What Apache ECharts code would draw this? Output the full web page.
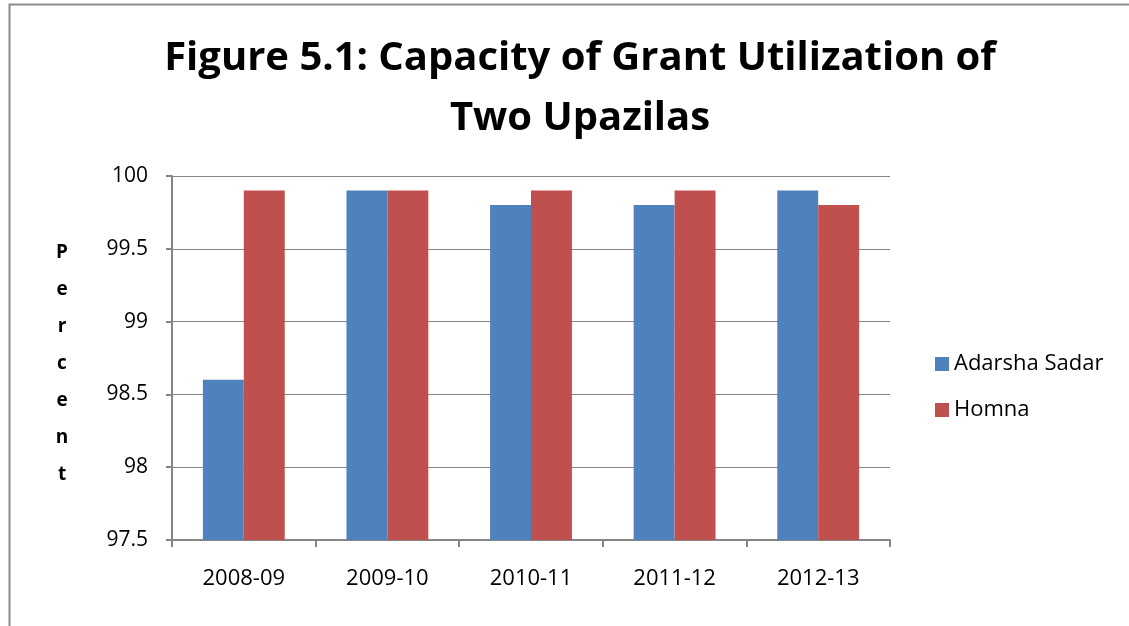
<!DOCTYPE html>
<html><head><meta charset="utf-8">
<script src="https://cdn.jsdelivr.net/npm/echarts@6/dist/echarts.min.js"></script>
<style>html,body{margin:0;padding:0;background:#fff}#c{width:1129px;height:626px}</style>
</head><body><div id="c"></div>
<script>
const categories = ['2008-09','2009-10','2010-11','2011-12','2012-13'];
const adarshaSadar = [98.6, 99.9, 99.8, 99.8, 99.9];
const homna = [99.9, 99.9, 99.9, 99.9, 99.8];
const seriesNames = ['Adarsha Sadar','Homna'];
const titleText = 'Figure 5.1: Capacity of Grant Utilization of\nTwo Upazilas';
const yName = 'P\ne\nr\nc\ne\nn\nt';

const font = 'Open Sans, Noto Sans, sans-serif';
const chart = echarts.init(document.getElementById('c'));
chart.setOption({
  animation: false,
  graphic: [
    {type:'rect', shape:{x:9.5,y:4.5,width:1140,height:700}, style:{fill:'none',stroke:'#8c8c8c',lineWidth:2}, z:-1},
    {type:'text', x:62, y:364, style:{text: yName, fontFamily:font, fontWeight:'bold', fontSize:19, lineHeight:37,
      fill:'#000', align:'center', verticalAlign:'middle'}}
  ],
  title: {text: titleText, left: 575, textAlign:'center', top: 24,
    textStyle:{fontFamily:font, fontWeight:'bold', fontSize:40, lineHeight:60, color:'#000'}},
  legend: {orient:'vertical', left: 930, top: 348, itemWidth:14, itemHeight:14, itemGap:24,
    icon:'rect', textStyle:{fontFamily:font, fontSize:22, color:'#000'}, data: seriesNames},
  grid: {left:172, right:239, top:176, bottom:86},
  xAxis: {type:'category', data: categories,
    axisLine:{lineStyle:{color:'#868686', width:2}},
    axisTick:{show:true, length:7, lineStyle:{color:'#868686', width:2}},
    axisLabel:{fontFamily:font, fontSize:22, color:'#000', margin:28}},
  yAxis: {type:'value', min:97.5, max:100, interval:0.5,
    axisLine:{show:true, lineStyle:{color:'#868686', width:2}},
    axisTick:{show:true, length:6, lineStyle:{color:'#868686', width:2}},
    splitLine:{lineStyle:{color:'#868686', width:1}},
    axisLabel:{fontFamily:font, fontSize:21, color:'#000', margin:24, formatter: v => String(v)}},
  series: [
    {name: seriesNames[0], type:'bar', data: adarshaSadar, barGap:'0%', barCategoryGap:'43%',
      itemStyle:{color:'#4f81bd'}},
    {name: seriesNames[1], type:'bar', data: homna, itemStyle:{color:'#c0504d'}}
  ]
});
</script></body></html>
